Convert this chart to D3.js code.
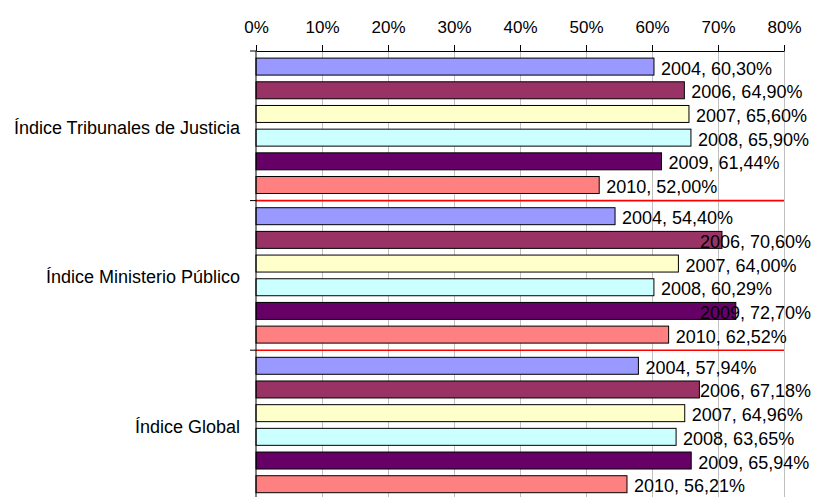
<!DOCTYPE html>
<html><head><meta charset="utf-8">
<script src="https://cdn.jsdelivr.net/npm/d3@7"></script>
<style>body{margin:0;background:#fff;overflow:hidden}svg{display:block}text{font-family:"Liberation Sans",Arial,sans-serif;fill:#000}</style>
</head><body>
<svg id="c" width="814" height="497"></svg>
<script>
const categories = ["Índice Tribunales de Justicia", "Índice Ministerio Público", "Índice Global"];
const years = ["2004", "2006", "2007", "2008", "2009", "2010"];
const values2004 = [60.30, 54.40, 57.94];
const values2006 = [64.90, 70.60, 67.18];
const values2007 = [65.60, 64.00, 64.96];
const values2008 = [65.90, 60.29, 63.65];
const values2009 = [61.44, 72.70, 65.94];
const values2010 = [52.00, 62.52, 56.21];
const tickValues = [0, 10, 20, 30, 40, 50, 60, 70, 80];
const colors = ["#9999FF", "#993366", "#FFFFCC", "#CCFFFF", "#660066", "#FF8080"];

const seriesValues = [values2004, values2006, values2007, values2008, values2009, values2010];
const fmt = v => v.toFixed(2).replace(".", ",") + "%";

const svg = d3.select("#c");
const x = d3.scaleLinear().domain([0, 80]).range([256, 784]);
const y0 = d3.scaleBand().domain(categories).range([51, 51 + 3 * 149.6]).padding(0);
const y1 = d3.scaleBand().domain(years).range([0, y0.bandwidth()]).paddingInner(0.283).paddingOuter(0.3);

// gridlines
svg.append("g").selectAll("line").data(tickValues.slice(1)).join("line")
  .attr("x1", d => x(d) + 0.5).attr("x2", d => x(d) + 0.5)
  .attr("y1", 51).attr("y2", 497)
  .attr("stroke", "#c0c0c0").attr("stroke-width", 1);

// bars
const g = svg.append("g");
categories.forEach((cat, ci) => {
  years.forEach((yr, si) => {
    const v = seriesValues[si][ci];
    const yy = y0(cat) + y1(yr);
    g.append("rect")
      .attr("x", x(0)).attr("y", yy)
      .attr("width", x(v) - x(0)).attr("height", y1.bandwidth())
      .attr("fill", colors[si]).attr("stroke", "#000").attr("stroke-width", 1);
  });
});

// separators
svg.append("g").selectAll("line").data(categories.slice(1)).join("line")
  .attr("x1", x(0)).attr("x2", x(80))
  .attr("y1", d => y0(d)).attr("y2", d => y0(d))
  .attr("stroke", "#ff0000").attr("stroke-width", 1.6);

// top axis
const ax = svg.append("g").attr("transform", "translate(0,51)")
  .call(d3.axisTop(x).tickValues(tickValues).tickFormat(d => d + "%").tickSize(6).tickSizeOuter(0));
ax.select(".domain").attr("stroke", "#000");
ax.selectAll(".tick line").attr("stroke", "#000");
ax.selectAll(".tick text").attr("font-size", 17).attr("font-family", "Liberation Sans, Arial, sans-serif").attr("dy", "-9");

// left axis
const ly = svg.append("g").attr("transform", "translate(256,0)");
ly.append("line").attr("x1", 0).attr("x2", 0).attr("y1", 51).attr("y2", 497).attr("stroke", "#000");
ly.selectAll(".tk").data(categories).join("line").attr("class", "tk")
  .attr("x1", -6).attr("x2", 0).attr("y1", d => y0(d)).attr("y2", d => y0(d)).attr("stroke", "#000");

// category labels
svg.append("g").selectAll("text").data(categories).join("text")
  .attr("x", 240).attr("y", d => y0(d) + y0.bandwidth() / 2 + 8)
  .attr("text-anchor", "end").attr("font-size", 18).text(d => d);

// value labels
const lg = svg.append("g");
categories.forEach((cat, ci) => {
  years.forEach((yr, si) => {
    const v = seriesValues[si][ci];
    const t = lg.append("text")
      .attr("y", y0(cat) + y1(yr) + y1.bandwidth() / 2 + 8)
      .attr("font-size", 18)
      .text(yr + ", " + fmt(v));
    const w = t.node().getComputedTextLength();
    t.attr("x", Math.min(x(v) + 7, 811 - w));
  });
});
</script>
</body></html>
